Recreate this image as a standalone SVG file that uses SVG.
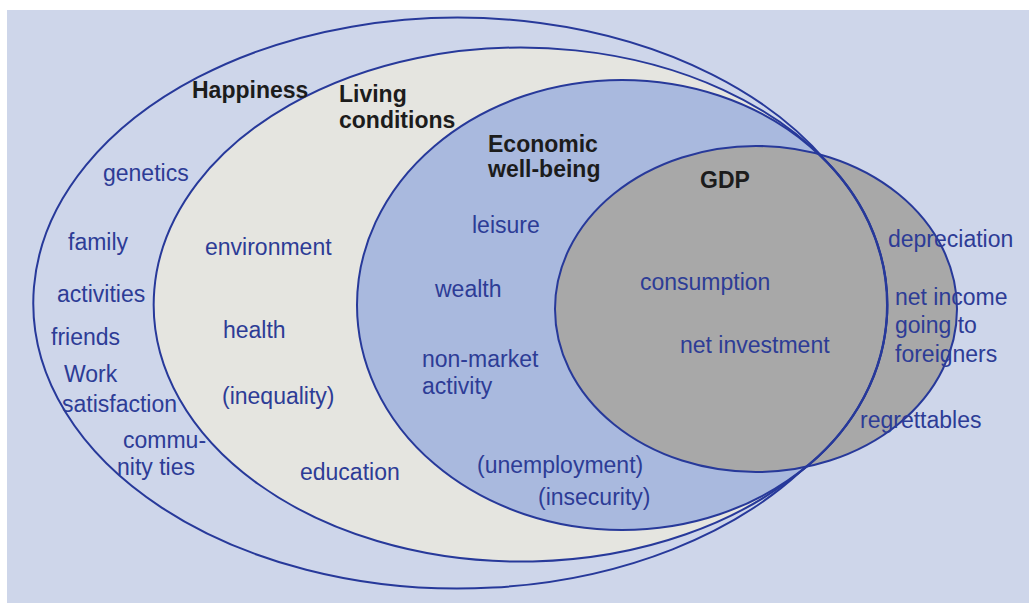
<svg xmlns="http://www.w3.org/2000/svg" width="1029" height="603" viewBox="0 0 1029 603">
<style>
.bd{fill:none;stroke:#27399a;stroke-width:2}
.t{font-family:"Liberation Sans",Arial,sans-serif;font-size:23px;fill:#2d3c96}
.h{font-family:"Liberation Sans",Arial,sans-serif;font-size:23px;font-weight:bold;fill:#1c1c1c}
</style>
<defs>
<path id="p-happy" d="M 800,472 A 424.5 285.5 0 1 1 826,161 A 265 225 0 0 1 800,472 Z"/>
<path id="p-living" d="M 800,472 A 367.5 257 0 1 1 826,161 A 265 225 0 0 1 800,472 Z"/>
</defs>
<rect x="0" y="0" width="1029" height="603" fill="#ffffff"/>
<rect x="7" y="10" width="1022" height="593" fill="#ced6ea"/>
<g id="happiness">
<use href="#p-happy" fill="#ced6ea"/>
</g>
<g id="living-conditions">
<use href="#p-living" fill="#e5e5e0"/>
</g>
<g id="economic-well-being">
<ellipse cx="622" cy="305" rx="265" ry="225" fill="#a9b9de"/>
</g>
<g id="gdp">
<ellipse cx="756" cy="309" rx="201" ry="163" fill="#a8a8a8"/>
</g>
<g id="outlines">
<use href="#p-happy" class="bd"/>
<use href="#p-living" class="bd"/>
<ellipse class="bd" cx="622" cy="305" rx="265" ry="225"/>
<ellipse class="bd" cx="756" cy="309" rx="201" ry="163"/>
</g>
<g id="labels">
<text class="h" x="192" y="98">Happiness</text>
<text class="h" x="339" y="102">Living</text>
<text class="h" x="339" y="128">conditions</text>
<text class="h" x="488" y="152">Economic</text>
<text class="h" x="488" y="177">well-being</text>
<text class="h" x="700" y="188">GDP</text>
</g>
<g id="happiness-items">
<text class="t" x="103" y="181">genetics</text>
<text class="t" x="68" y="250">family</text>
<text class="t" x="57" y="302">activities</text>
<text class="t" x="51" y="345">friends</text>
<text class="t" x="64" y="382">Work</text>
<text class="t" x="62" y="412">satisfaction</text>
<text class="t" x="123" y="448">commu-</text>
<text class="t" x="117" y="475">nity ties</text>
</g>
<g id="living-items">
<text class="t" x="205" y="255">environment</text>
<text class="t" x="223" y="338">health</text>
<text class="t" x="222" y="404">(inequality)</text>
<text class="t" x="300" y="480">education</text>
</g>
<g id="economic-items">
<text class="t" x="472" y="233">leisure</text>
<text class="t" x="435" y="297">wealth</text>
<text class="t" x="422" y="367">non-market</text>
<text class="t" x="422" y="394">activity</text>
<text class="t" x="477" y="473">(unemployment)</text>
<text class="t" x="538" y="505">(insecurity)</text>
</g>
<g id="gdp-items">
<text class="t" x="640" y="290">consumption</text>
<text class="t" x="680" y="353">net investment</text>
<text class="t" x="888" y="247">depreciation</text>
<text class="t" x="895" y="305">net income</text>
<text class="t" x="895" y="333">going to</text>
<text class="t" x="895" y="362">foreigners</text>
<text class="t" x="860" y="428">regrettables</text>
</g>
</svg>
